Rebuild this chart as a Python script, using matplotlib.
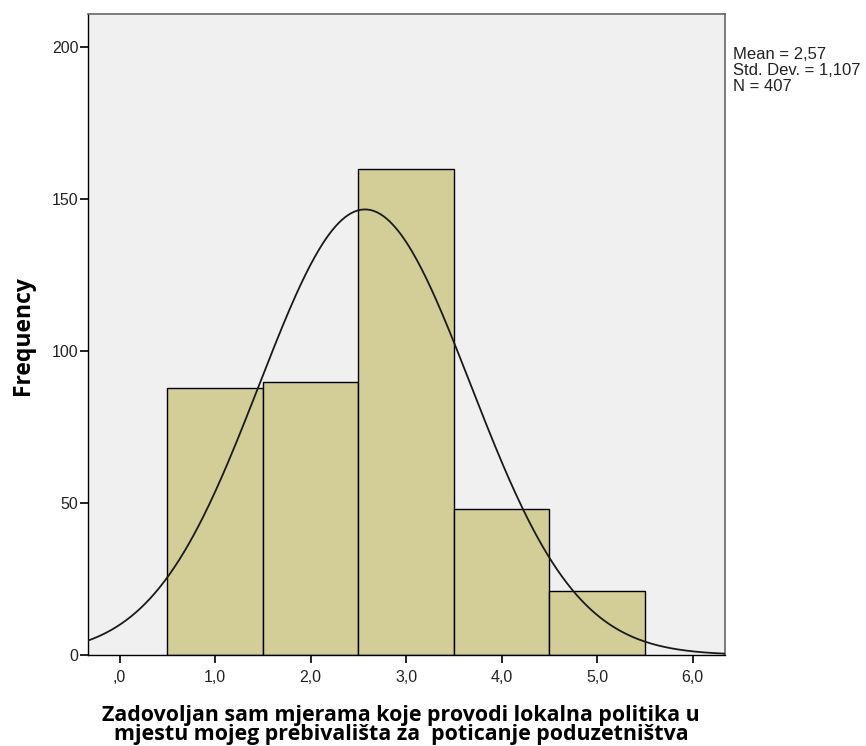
import numpy as np
import matplotlib
matplotlib.use("Agg")
import matplotlib.pyplot as plt

# Data
bin_centers = [1, 2, 3, 4, 5]
frequencies = [88, 90, 160, 48, 21]
mean_val = 2.57
std_val = 1.107
n_val = 407
x_ticks = [0, 1, 2, 3, 4, 5, 6]
x_ticklabels = [",0", "1,0", "2,0", "3,0", "4,0", "5,0", "6,0"]
y_ticks = [0, 50, 100, 150, 200]
x_label = "Zadovoljan sam mjerama koje provodi lokalna politika u\nmjestu mojeg prebivališta za  poticanje poduzetništva"
y_label = "Frequency"
stats_text = "Mean = 2,57\nStd. Dev. = 1,107\nN = 407"

plt.rcParams['font.family'] = ['Liberation Sans', 'DejaVu Sans']
label_family = ['Open Sans', 'DejaVu Sans']

fig = plt.figure(figsize=(8.66, 7.46), dpi=100)
ax = fig.add_axes([88/866, 1-655/746, (725-88)/866, (655-14)/746])
ax.set_facecolor('#F0F0F0')

ax.bar(bin_centers, frequencies, width=1.0, color='#D3CE97', edgecolor='black', linewidth=1.0, zorder=2)

xs = np.linspace(-0.33, 6.34, 400)
pdf = n_val * 1.0 * np.exp(-0.5 * ((xs - mean_val) / std_val) ** 2) / (std_val * np.sqrt(2 * np.pi))
ax.plot(xs, pdf, color='#1a1a1a', linewidth=1.3, zorder=3)

ax.set_xlim(-0.33, 6.34)
ax.set_ylim(0, 211)
ax.set_xticks(x_ticks)
ax.set_xticklabels(x_ticklabels)
ax.set_yticks(y_ticks)
ax.tick_params(axis='both', direction='out', length=6, width=1.2, labelsize=11.5, colors='black')
ax.tick_params(axis='x', pad=5)
ax.tick_params(axis='y', pad=1)
for lbl in ax.get_xticklabels() + ax.get_yticklabels():
    lbl.set_color('#222222')

for s in ['left', 'bottom']:
    ax.spines[s].set_color('black')
    ax.spines[s].set_linewidth(1.0)
for s in ['top', 'right']:
    ax.spines[s].set_color('#666666')
    ax.spines[s].set_linewidth(1.2)

fig.text(23/866, 1-336/746, y_label, rotation=90, fontsize=16.5, fontweight='bold',
         family=label_family, ha='center', va='center')
fig.text(401/866, 1-705/746, x_label, fontsize=15.4, fontweight='bold',
         family=label_family, ha='center', va='top', linespacing=0.88, multialignment='center')

fig.text(733/866, 1-47/746, stats_text, fontsize=12, va='top', ha='left', linespacing=1.1,
         color='#222222')

fig.savefig('out.png', dpi=100)
